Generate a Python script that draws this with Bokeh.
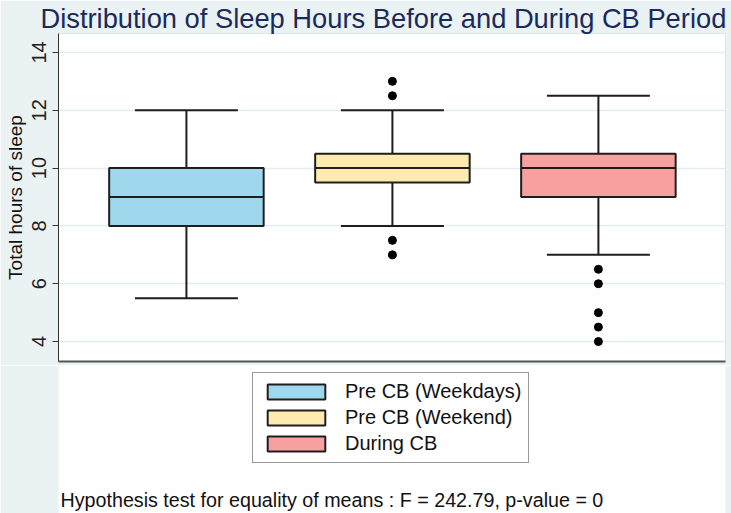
import numpy as np
from bokeh.plotting import figure
from bokeh.layouts import column
from bokeh.models import (ColumnDataSource, FixedTicker, Legend, LegendItem,
                          Title, Label, Range1d)
from bokeh.embed import file_html
from bokeh.resources import INLINE

# ---- data ----
groups = ["Pre CB (Weekdays)", "Pre CB (Weekend)", "During CB"]
positions = [1, 2, 3]
q1 = [8.0, 9.5, 9.0]
median = [9.0, 10.0, 10.0]
q3 = [10.0, 10.5, 10.5]
lower_whisker = [5.5, 8.0, 7.0]
upper_whisker = [12.0, 12.0, 12.5]
outliers = [[], [13.0, 12.5, 7.5, 7.0], [6.5, 6.0, 5.0, 4.5, 4.0]]
colors = ["#9fd8ec", "#ffeab0", "#f8a0a0"]
y_ticks = [4, 6, 8, 10, 12, 14]
title_text = "Distribution of Sleep Hours Before and During CB Period"
y_label = "Total hours of sleep"
note_text = "Hypothesis test for equality of means : F = 242.79, p-value = 0"

# ---- styles ----
BG = "#eaf2f3"
NAVY = "#1b2a5c"
INK = "#1e1e1e"
FONT = "Liberation Sans"
BOX_W = 0.75
CAP_W = 0.5

# ================= main plot =================
p = figure(width=731, height=365, title=None,
           x_range=Range1d(0.379, 3.617), y_range=Range1d(3.31, 14.655),
           output_backend="svg", toolbar_location=None,
           min_border_left=58, min_border_right=6, min_border_top=32,
           min_border_bottom=4,
           background_fill_color="white", border_fill_color=BG,
           outline_line_color="#dde7ea")

pos = np.array(positions, dtype=float)
src = ColumnDataSource(dict(x=positions, q1=q1, q3=q3, color=colors))

# whiskers and caps
p.segment(x0=positions, y0=q3, x1=positions, y1=upper_whisker,
          line_color=INK, line_width=2)
p.segment(x0=positions, y0=q1, x1=positions, y1=lower_whisker,
          line_color=INK, line_width=2)
p.segment(x0=list(pos - CAP_W / 2), y0=upper_whisker,
          x1=list(pos + CAP_W / 2), y1=upper_whisker,
          line_color=INK, line_width=2)
p.segment(x0=list(pos - CAP_W / 2), y0=lower_whisker,
          x1=list(pos + CAP_W / 2), y1=lower_whisker,
          line_color=INK, line_width=2)

# boxes
p.vbar(x="x", width=BOX_W, top="q3", bottom="q1", source=src,
       fill_color="color", line_color=INK, line_width=2)

# medians
p.segment(x0=list(pos - BOX_W / 2), y0=median,
          x1=list(pos + BOX_W / 2), y1=median,
          line_color=INK, line_width=2)

# outliers
ox = [positions[i] for i, vals in enumerate(outliers) for _ in vals]
oy = [v for vals in outliers for v in vals]
p.scatter(x=ox, y=oy, size=8, fill_color="black", line_color="black")

# title
p.add_layout(Title(text=title_text, align="left", offset=-18, standoff=0,
                   text_font=FONT, text_font_size="27.3px",
                   text_font_style="normal", text_color=NAVY), "above")

# axes
p.xaxis.ticker = FixedTicker(ticks=[])
p.xaxis.major_tick_out = 0
p.xaxis.major_tick_in = 0
p.xaxis.major_label_standoff = 0
p.xaxis.major_tick_line_color = None
p.xaxis.minor_tick_line_color = None
p.xaxis.major_label_text_font_size = "0px"
p.xaxis.axis_line_color = "#555555"
p.xaxis.axis_line_width = 2

p.yaxis.ticker = FixedTicker(ticks=y_ticks)
p.yaxis.major_tick_out = 6
p.yaxis.major_tick_in = 0
p.yaxis.minor_tick_line_color = None
p.yaxis.axis_line_color = "#333333"
p.yaxis.major_tick_line_color = "#333333"
p.yaxis.major_label_orientation = "vertical"
p.yaxis.major_label_text_font = FONT
p.yaxis.major_label_text_font_size = "20px"
p.yaxis.major_label_text_color = "#222222"
p.yaxis.major_label_standoff = 6
p.yaxis.axis_label = y_label
p.yaxis.axis_label_text_font = FONT
p.yaxis.axis_label_text_font_size = "19px"
p.yaxis.axis_label_text_font_style = "normal"
p.yaxis.axis_label_text_color = "#111111"
p.yaxis.axis_label_standoff = 4

p.xgrid.grid_line_color = None
p.ygrid.grid_line_color = "#e3edef"
p.ygrid.grid_line_width = 1.5

# ================= legend + note strip =================
q = figure(width=731, height=148, x_range=Range1d(0, 1), y_range=Range1d(0, 1),
           x_axis_type=None, y_axis_type=None, title=None,
           output_backend="svg", toolbar_location=None,
           min_border_left=58, min_border_right=6, min_border_top=0,
           min_border_bottom=0, outline_line_color=None,
           background_fill_color=BG, background_fill_alpha=0.0,
           border_fill_color=BG)
q.xgrid.grid_line_color = None
q.ygrid.grid_line_color = None

# legend keys: the same boxes, kept hidden in this strip; only their style is shown
keys = [q.vbar(x=[positions[i]], top=[q3[i]], bottom=[q1[i]], width=BOX_W,
               fill_color=colors[i], line_color=INK, line_width=2,
               visible=False)
        for i in range(len(groups))]

legend = Legend(items=[LegendItem(label=g, renderers=[r])
                       for g, r in zip(groups, keys)],
                location=(194, 50), orientation="vertical",
                glyph_width=72, glyph_height=19, label_standoff=13,
                spacing=3, padding=7, margin=0,
                label_text_font=FONT, label_text_font_size="20px",
                label_text_color="#111111",
                border_line_color="#333333", border_line_width=1,
                background_fill_color="white", background_fill_alpha=1.0,
                inactive_fill_alpha=0.0, click_policy="none")
q.add_layout(legend)

q.add_layout(Label(x=2, y=14, x_units="screen", y_units="screen",
                   text=note_text, text_align="left",
                   text_baseline="alphabetic", text_font=FONT,
                   text_font_size="19.7px", text_color="#111111"))

layout = column(p, q, spacing=0)
open("out.html", "w").write(file_html(layout, INLINE))
